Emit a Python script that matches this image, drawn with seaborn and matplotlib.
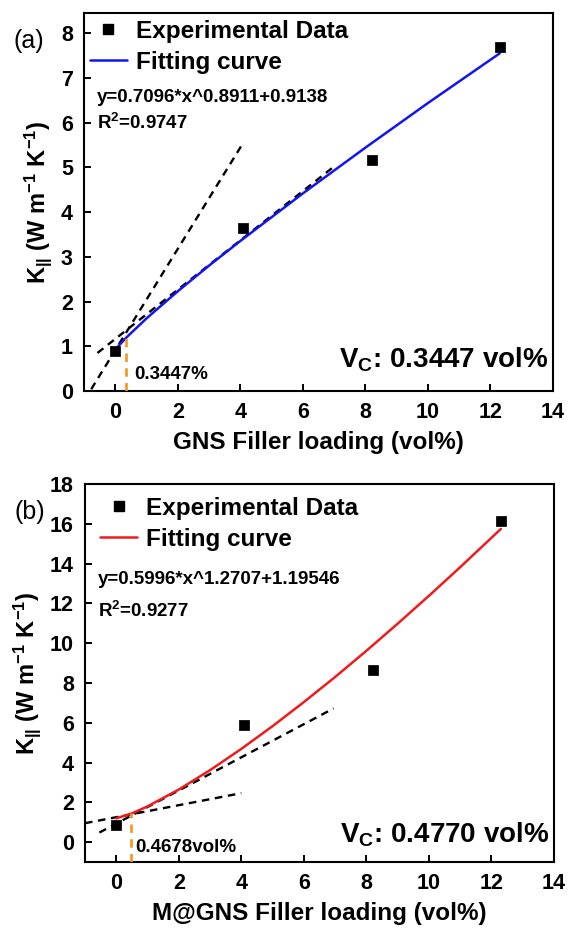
import matplotlib
matplotlib.use("Agg")
import matplotlib.pyplot as plt
import seaborn as sns
import pandas as pd
from matplotlib.lines import Line2D

# ---------------- data ----------------
# Panel (a): GNS
gns_x = [0.0, 4.1, 8.2, 12.3]
gns_k = [0.89, 3.64, 5.17, 7.68]
gns_fit_x = [0.0, 0.1, 0.35, 1.0, 2.0, 3.0, 4.0, 6.0, 8.0, 10.0, 12.3]
gns_fit_y = [0.914, 1.005, 1.192, 1.624, 2.230, 2.803, 3.354, 4.417, 5.440, 6.437, 7.55]
gns_tan1_x = [-0.77, 4.05]
gns_tan1_y = [0.04, 5.50]
gns_tan2_x = [-0.57, 7.0]
gns_tan2_y = [0.85, 5.02]
gns_vc = 0.3447
gns_vc_top = 1.32

# Panel (b): M@GNS
mgns_x = [0.0, 4.1, 8.2, 12.3]
mgns_k = [0.88, 5.87, 8.65, 16.15]
mgns_fit_x = [0.0, 0.5, 1.0, 2.0, 3.0, 4.0, 5.0, 6.0, 7.0, 8.0, 9.0, 10.0, 11.0, 12.3]
mgns_fit_y = [1.195, 1.444, 1.795, 2.642, 3.617, 4.686, 5.83, 7.039, 8.30, 9.617, 10.98, 12.38, 13.82, 15.74]
mgns_tan1_x = [-1.0, 4.0]
mgns_tan1_y = [0.95, 2.46]
mgns_tan2_x = [-0.54, 6.95]
mgns_tan2_y = [0.48, 6.72]
mgns_vc = 0.4678
mgns_vc_top = 1.45

x_ticks = [0, 2, 4, 6, 8, 10, 12, 14]
a_yticks = [0, 1, 2, 3, 4, 5, 6, 7, 8]
b_yticks = [0, 2, 4, 6, 8, 10, 12, 14, 16, 18]

# ---------------- style ----------------
sns.set_theme(style="ticks")
plt.rcParams["font.family"] = ["Liberation Sans", "DejaVu Sans"]
plt.rcParams["font.weight"] = "bold"
plt.rcParams["axes.labelweight"] = "bold"
plt.rcParams["text.color"] = "black"
plt.rcParams["axes.labelcolor"] = "black"
plt.rcParams["xtick.color"] = "black"
plt.rcParams["ytick.color"] = "black"
plt.rcParams["mathtext.fontset"] = "custom"
plt.rcParams["mathtext.rm"] = "Liberation Sans:bold"
plt.rcParams["mathtext.bf"] = "Liberation Sans:bold"
plt.rcParams["mathtext.it"] = "Liberation Sans:bold"
plt.rcParams["mathtext.default"] = "bf"

W, H = 571, 931
fig = plt.figure(figsize=(W / 100, H / 100), dpi=100)
ax_a = fig.add_axes([84 / W, 1 - 391 / H, 469 / W, 378 / H])
ax_b = fig.add_axes([85 / W, 1 - 862 / H, 469 / W, 378 / H])

DASH = (3.2, 2.4)
ORANGE = "#F7941D"


def panel(ax, xs, ks, fx, fy, t1x, t1y, t2x, t2y, vc, vctop, ylim, yticks,
          color, eq, r2, eq_y, r2_y, vc_text, vc_y, note, note_y, xlabel, tag,
          leg_anchor):
    df = pd.DataFrame({"x": xs, "k": ks})
    fit = pd.DataFrame({"x": fx, "y": fy})
    t1 = pd.DataFrame({"x": t1x, "y": t1y})
    t2 = pd.DataFrame({"x": t2x, "y": t2y})
    sns.lineplot(data=t1, x="x", y="y", ax=ax, color="black", lw=1.7,
                 estimator=None, sort=False, zorder=2).lines[-1].set_dashes(DASH)
    sns.lineplot(data=t2, x="x", y="y", ax=ax, color="black", lw=1.7,
                 estimator=None, sort=False, zorder=2).lines[-1].set_dashes(DASH)
    sns.lineplot(data=fit, x="x", y="y", ax=ax, color=color, lw=1.8,
                 estimator=None, sort=False, zorder=3)
    sns.scatterplot(data=df, x="x", y="k", ax=ax, marker="s", s=45,
                    color="black", edgecolor="black", zorder=4)
    ax.plot([vc, vc], [ylim[0], vctop], color=ORANGE, lw=1.9, dashes=DASH, zorder=3)

    ax.set_xlim(-1, 14)
    ax.set_ylim(*ylim)
    ax.set_xticks(x_ticks)
    ax.set_yticks(yticks)
    ax.tick_params(direction="in", length=5, width=1.4, labelsize=15.5, pad=8,
                   top=False, right=False, colors="black")
    for s in ax.spines.values():
        s.set_linewidth(1.5)
        s.set_color("black")
    ax.set_xlabel(xlabel, fontsize=17.5, labelpad=6)
    ax.set_ylabel(r"K$_{||}$ (W m$^{-1}$ K$^{-1}$)", fontsize=17, labelpad=5)

    handles = [
        Line2D([], [], ls="none", marker="s", color="black", markersize=6.5),
        Line2D([], [], color=color, lw=1.8),
    ]
    ax.legend(handles, ["Experimental Data", "Fitting curve"], loc="upper left",
              bbox_to_anchor=leg_anchor, frameon=False, fontsize=17.5,
              handlelength=1.5, handletextpad=0.37, labelspacing=0.32,
              borderaxespad=0.0, borderpad=0.25)

    ax.text(-0.6, eq_y, eq, fontsize=13.5, va="center", ha="left")
    ax.text(-0.6, r2_y, r2, fontsize=13.5, va="center", ha="left")
    ax.text(13.85, vc_y, vc_text, fontsize=20, va="center", ha="right")
    ax.text(0.6, note_y, note, fontsize=13.5, va="center", ha="left")
    ax.text(-0.15, 0.925, tag, transform=ax.transAxes, fontsize=18,
            fontweight="normal", va="center", ha="left")


panel(ax_a, gns_x, gns_k, gns_fit_x, gns_fit_y, gns_tan1_x, gns_tan1_y,
      gns_tan2_x, gns_tan2_y, gns_vc, gns_vc_top, (0, 8.45), a_yticks, "#1414F0",
      "y=0.7096*x^0.8911+0.9138", r"R$^{2}$=0.9747", 6.57, 5.99,
      r"V$_{C}$: 0.3447 vol%", 0.69, "0.3447%", 0.36,
      "GNS Filler loading (vol%)", "(a)", (0.0, 0.998))

panel(ax_b, mgns_x, mgns_k, mgns_fit_x, mgns_fit_y, mgns_tan1_x, mgns_tan1_y,
      mgns_tan2_x, mgns_tan2_y, mgns_vc, mgns_vc_top, (-1, 18), b_yticks, "#EE1C1C",
      "y=0.5996*x^1.2707+1.19546", r"R$^{2}$=0.9277", 13.2, 11.6,
      r"V$_{C}$: 0.4770 vol%", 0.35, "0.4678vol%", -0.25,
      "M@GNS Filler loading (vol%)", "(b)", (0.02, 0.982))

fig.savefig("out.png", dpi=100)
